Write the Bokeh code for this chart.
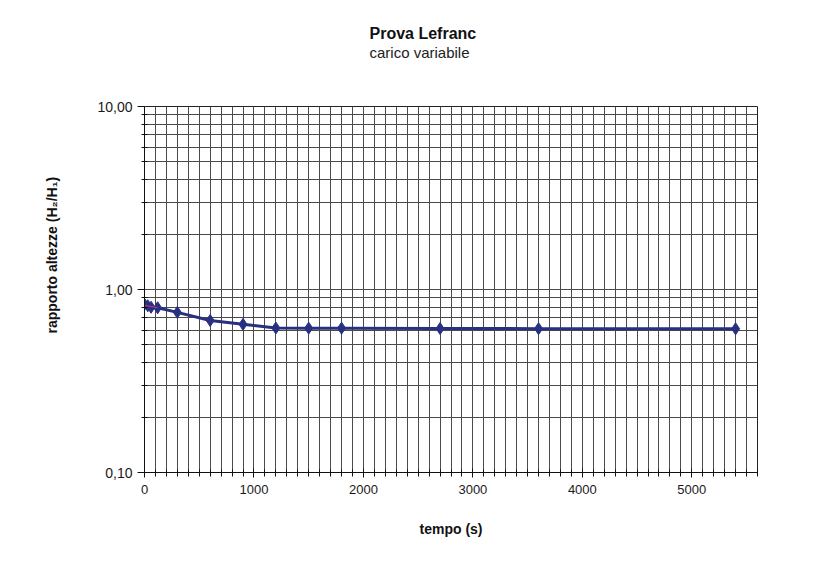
from bokeh.plotting import figure
from bokeh.models import FixedTicker, CustomJSTickFormatter, Title, Range1d, ColumnDataSource
from bokeh.embed import file_html
from bokeh.resources import INLINE

# ---- data ----
tempo = [0, 30, 60, 120, 300, 600, 900, 1200, 1500, 1800, 2700, 3600, 5400]
rapporto = [0.83, 0.815, 0.80, 0.795, 0.75, 0.677, 0.645, 0.616, 0.615, 0.615, 0.612, 0.611, 0.61]

fit_tempo = [0, 120]
fit_rapporto = [0.82, 0.795]

x_major_ticks = [0, 1000, 2000, 3000, 4000, 5000]
x_minor_ticks = [i * 100 for i in range(0, 57)]
y_major_ticks = [0.1, 1.0, 10.0]
y_tick_labels = ["0,10", "1,00", "10,00"]
y_minor_ticks = [0.2, 0.3, 0.4, 0.5, 0.6, 0.7, 0.8, 0.9, 2, 3, 4, 5, 6, 7, 8, 9]

title_text = "Prova Lefranc"
subtitle_text = "carico variabile"
x_label = "tempo (s)"
y_label = "rapporto altezze (H\u2082/H\u2081)"

FONT = "Liberation Sans"
LINE_COLOR = "#283080"
GRID_COLOR = "#4a4a4a"

p = figure(width=810, height=566,
           x_range=Range1d(0, 5600), y_range=Range1d(0.1, 10),
           y_axis_type="log", output_backend="svg", toolbar_location=None,
           min_border_left=144, min_border_right=53,
           min_border_top=106, min_border_bottom=94,
           background_fill_color="white", border_fill_color="white")

# main title (outermost)
p.title.text = title_text
p.title.align = "left"
p.title.offset = 225
p.title.standoff = 0
p.title.text_font = FONT
p.title.text_font_size = "16px"
p.title.text_font_style = "bold"
p.title.text_color = "#111111"

# empty spacer next to the frame, then the subtitle
spacer = Title(text=" ", standoff=43, text_font_size="1px", text_color="white")
p.add_layout(spacer, "above")
t2 = Title(text=subtitle_text, align="left", offset=225, standoff=0,
           text_font=FONT, text_font_size="15px", text_font_style="normal",
           text_color="#222222")
p.add_layout(t2, "above")

ylab = Title(text=y_label, align="left", offset=139, standoff=70,
             text_font=FONT, text_font_size="14px", text_font_style="bold",
             text_color="#111111")
p.add_layout(ylab, "left")

# x axis
xt = FixedTicker(ticks=x_major_ticks, minor_ticks=x_minor_ticks)
p.xaxis.ticker = xt
p.xgrid.ticker = xt
p.xaxis.axis_label = x_label
p.xaxis.axis_label_text_font = FONT
p.xaxis.axis_label_text_font_size = "14px"
p.xaxis.axis_label_text_font_style = "bold"
p.xaxis.axis_label_text_color = "#111111"
p.xaxis.axis_label_standoff = 24
p.xaxis.major_label_text_font = FONT
p.xaxis.major_label_text_font_size = "13px"
p.xaxis.major_label_text_color = "#1a1a1a"
p.xaxis.major_label_standoff = 7
p.xaxis.major_tick_in = 4
p.xaxis.major_tick_out = 5
p.xaxis.minor_tick_in = 3
p.xaxis.minor_tick_out = 4
p.xaxis.axis_line_color = "#111111"
p.xaxis.major_tick_line_color = "#111111"
p.xaxis.minor_tick_line_color = "#111111"

# y axis
yt = FixedTicker(ticks=y_major_ticks, minor_ticks=y_minor_ticks)
p.yaxis.ticker = yt
p.ygrid.ticker = yt
p.yaxis.formatter = CustomJSTickFormatter(
    args=dict(vals=y_major_ticks, labs=y_tick_labels),
    code="""
    for (let i = 0; i < vals.length; i++) {
        if (Math.abs(vals[i] - tick) < 1e-9 * Math.max(1, vals[i])) return labs[i];
    }
    return tick.toFixed(2).replace('.', ',');
    """)
p.yaxis.major_label_text_font = FONT
p.yaxis.major_label_text_font_size = "14px"
p.yaxis.major_label_text_color = "#1a1a1a"
p.yaxis.major_label_standoff = 5
p.yaxis.major_tick_in = 0
p.yaxis.major_tick_out = 7
p.yaxis.minor_tick_in = 3
p.yaxis.minor_tick_out = 3
p.yaxis.axis_line_color = "#111111"
p.yaxis.major_tick_line_color = "#111111"
p.yaxis.minor_tick_line_color = "#111111"

# grids
for g in (p.xgrid, p.ygrid):
    g.grid_line_color = GRID_COLOR
    g.grid_line_width = 1
    g.minor_grid_line_color = GRID_COLOR
    g.minor_grid_line_width = 1

p.outline_line_color = "#222222"
p.outline_line_width = 1

src = ColumnDataSource(data=dict(t=tempo, r=rapporto))
p.line("t", "r", source=src, color=LINE_COLOR, line_width=3)
p.scatter("t", "r", source=src, marker="diamond", size=12, color=LINE_COLOR)
p.line(fit_tempo, fit_rapporto, color="#cc3388", line_width=1)

open("out.html", "w").write(file_html(p, INLINE))
